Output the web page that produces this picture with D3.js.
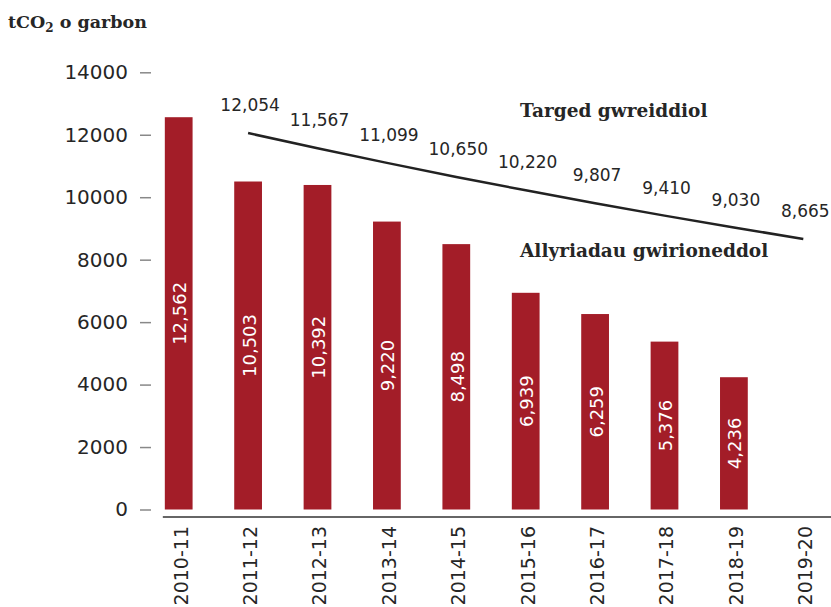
<!DOCTYPE html>
<html>
<head>
<meta charset="utf-8">
<script src="https://cdn.jsdelivr.net/npm/d3@7"></script>
<style>
  body { margin: 0; background: #fff; }
  svg { display: block; }
</style>
</head>
<body>
<div id="chart"></div>
<script>
// data
const years = ["2010-11", "2011-12", "2012-13", "2013-14", "2014-15", "2015-16", "2016-17", "2017-18", "2018-19", "2019-20"];
const actual = [12562, 10503, 10392, 9220, 8498, 6939, 6259, 5376, 4236, null];
const targetYears = ["2011-12", "2012-13", "2013-14", "2014-15", "2015-16", "2016-17", "2017-18", "2018-19", "2019-20"];
const target = [12054, 11567, 11099, 10650, 10220, 9807, 9410, 9030, 8665];
const yTicks = [0, 2000, 4000, 6000, 8000, 10000, 12000, 14000];

const W = 831, H = 607;
const barColor = "#a31d28";
const numFont = "DejaVu Sans, sans-serif";
const slabFont = "DejaVu Serif, serif";
const fmt = d3.format(",");

const svg = d3.select("#chart").append("svg")
    .attr("width", W)
    .attr("height", H);

// scales
const x = d3.scaleBand()
    .domain(years)
    .range([144, 838])
    .paddingInner(0.6)
    .paddingOuter(0.3);

const y = d3.scaleLinear()
    .domain([0, 14000])
    .range([509.5, 72.3]);

const cx = d => x(d) + x.bandwidth() / 2;

// y axis
const yAxis = svg.append("g")
    .attr("transform", "translate(151,0)")
    .call(d3.axisLeft(y).tickValues(yTicks).tickSize(11).tickPadding(12).tickFormat(d3.format("d")));
yAxis.select(".domain").remove();
yAxis.selectAll(".tick line").attr("stroke", "#888").attr("stroke-width", 1.5);
yAxis.selectAll(".tick text")
    .attr("fill", "#262626")
    .style("font-family", numFont)
    .style("font-size", "20px");

// bars
const barData = years.map((d, i) => ({ year: d, v: actual[i] })).filter(d => d.v != null);

svg.selectAll(".bar")
    .data(barData)
    .enter()
    .append("rect")
    .attr("class", "bar")
    .attr("x", d => x(d.year))
    .attr("width", x.bandwidth())
    .attr("y", d => y(d.v))
    .attr("height", d => y(0) - y(d.v))
    .attr("fill", barColor);

// bar labels (rotated, white)
svg.selectAll(".bar-label")
    .data(barData)
    .enter()
    .append("text")
    .attr("class", "bar-label")
    .attr("transform", d => `translate(${cx(d.year) + 1},${y(d.v / 2)}) rotate(-90)`)
    .attr("text-anchor", "middle")
    .attr("dy", "0.36em")
    .attr("fill", "#fff")
    .style("font-family", numFont)
    .style("font-size", "18px")
    .text(d => fmt(d.v));

// bottom axis line
svg.append("line")
    .attr("x1", x(years[0]) - 2)
    .attr("x2", W)
    .attr("y1", 517)
    .attr("y2", 517)
    .attr("stroke", "#666")
    .attr("stroke-width", 2);

// x labels
svg.selectAll(".x-label")
    .data(years)
    .enter()
    .append("text")
    .attr("class", "x-label")
    .attr("transform", d => `translate(${cx(d) + 2},526) rotate(-90)`)
    .attr("text-anchor", "end")
    .attr("dy", "0.36em")
    .attr("fill", "#262626")
    .style("font-family", numFont)
    .style("font-size", "19px")
    .text(d => d);

// target line
const targetData = targetYears.map((d, i) => ({ year: d, v: target[i] }));
const line = d3.line()
    .x(d => cx(d.year))
    .y(d => y(d.v));

svg.append("path")
    .datum(targetData)
    .attr("fill", "none")
    .attr("stroke", "#222")
    .attr("stroke-width", 2.5)
    .attr("d", line);

svg.selectAll(".target-label")
    .data(targetData)
    .enter()
    .append("text")
    .attr("class", "target-label")
    .attr("x", d => cx(d.year) + 2)
    .attr("y", d => y(d.v) - 22)
    .attr("text-anchor", "middle")
    .attr("fill", "#262626")
    .style("font-family", numFont)
    .style("font-size", "17px")
    .text(d => fmt(d.v));

// annotations
svg.append("text")
    .attr("x", 520)
    .attr("y", 117)
    .attr("fill", "#262626")
    .style("font-family", slabFont)
    .style("font-weight", "bold")
    .style("font-size", "18.5px")
    .text("Targed gwreiddiol");

svg.append("text")
    .attr("x", 520)
    .attr("y", 257)
    .attr("fill", "#262626")
    .style("font-family", slabFont)
    .style("font-weight", "bold")
    .style("font-size", "18.5px")
    .text("Allyriadau gwirioneddol");

// title
const title = svg.append("text")
    .attr("x", 8)
    .attr("y", 28)
    .attr("fill", "#262626")
    .style("font-family", slabFont)
    .style("font-weight", "bold")
    .style("font-size", "17.5px");
title.append("tspan").text("tCO");
title.append("tspan").attr("dy", 4).style("font-size", "12px").text("2");
title.append("tspan").attr("dy", -4).text(" o garbon");
</script>
</body>
</html>
